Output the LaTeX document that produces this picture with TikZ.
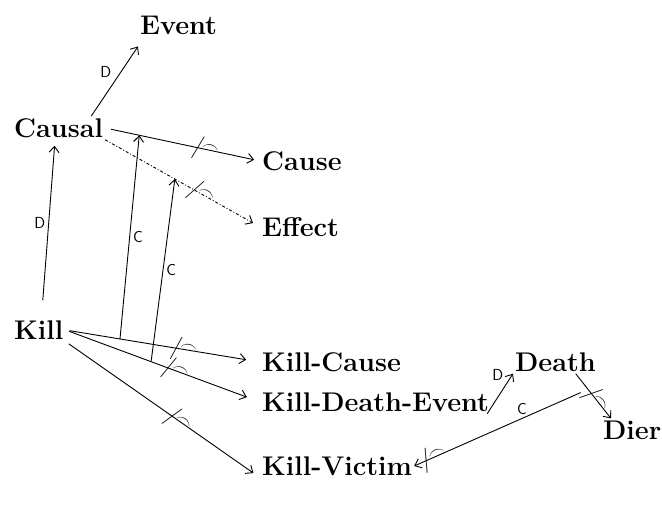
\documentclass[tikz,border=0pt]{standalone}
\usepackage{tikz}
\usetikzlibrary{arrows.meta,calc}

\begin{document}
\begin{tikzpicture}[x=1pt, y=-1pt]
    \tikzstyle{concept} = [anchor=west, inner sep=2pt, font=\fontsize{27}{30}\selectfont\bfseries]
    \tikzstyle{link} = [line width=0.9pt, -{Straight Barb[length=6pt,width=10pt]}]
    \tikzstyle{hand} = [font=\fontsize{16}{18}\selectfont\sffamily, inner sep=3pt]
    \tikzstyle{roletick} = [sloped, inner sep=0pt, font=\fontsize{24}{24}\selectfont]
    \newcommand{\rmark}{/\smash{\rlap{\kern-2pt\raisebox{0.5ex}{\LARGE$\frown$}}}}

    \useasboundingbox (0,0) rectangle (662,506);

    % concepts
    \node[concept] (event) at (138,25) {Event};
    \node[concept] (causal) at (12,128) {Causal};
    \node[concept] (cause) at (260,161) {Cause};
    \node[concept] (effect) at (260,227) {Effect};
    \node[concept] (kill) at (12,330) {Kill};
    \node[concept] (killcause) at (260,362) {Kill-Cause};
    \node[concept] (kde) at (260,402) {Kill-Death-Event};
    \node[concept] (killvictim) at (260,466) {Kill-Victim};
    \node[concept] (death) at (513,362) {Death};
    \node[concept] (dier) at (601,430) {Dier};

    % superconcept links
    \draw[link] ([xshift=-14pt]causal.north east) -- node[hand, above left] {D} ([yshift=-10pt]event.south west);
    \draw[link] ([xshift=4pt,yshift=18pt]kill.north) -- node[hand, left] {D} ([xshift=-4pt,yshift=-6pt]causal.south);
    \draw[link] ([xshift=-4pt]kde.south east) -- node[hand, above left, pos=0.75] {D} (death.south west);

    % roles
    \draw[link, shorten <=6pt, shorten >=6pt] (causal.east) -- coordinate[pos=0.22] (cr)
        node[roletick, pos=0.6] {\rmark} (cause.west);
    \draw[link, dash dot, shorten >=8pt] (causal.south east) -- coordinate[pos=0.45] (er)
        node[roletick, pos=0.58] {\rmark} (effect.west);
    \draw[link, shorten <=4pt, shorten >=14pt] (kill.east) -- coordinate[pos=0.28] (kc)
        node[roletick, pos=0.57] {\rmark} (killcause.west);
    \draw[link, shorten <=4pt, shorten >=14pt] (kill.east) -- coordinate[pos=0.44] (kd)
        node[roletick, pos=0.53] {\rmark} (kde.west);
    \draw[link, shorten <=4pt, shorten >=8pt] (kill.south east) --
        node[roletick, pos=0.55] {\rmark} (killvictim.south west);
    \draw[link] (death.-30) -- coordinate[pos=0.35] (dd)
        node[roletick, pos=0.45] {\rmark} ([xshift=10pt]dier.north west);

    % restrictions
    \draw[link] (kc) -- node[hand, right] {C} (cr);
    \draw[link] (kd) -- node[hand, right] {C} (er);
    \draw[link, {Straight Barb[length=6pt,width=10pt]}-, shorten >=8pt] (killvictim.east) --
        node[roletick, pos=0.07] {\rmark}
        node[hand, above, pos=0.62] {C} (dd);
\end{tikzpicture}
\end{document}
